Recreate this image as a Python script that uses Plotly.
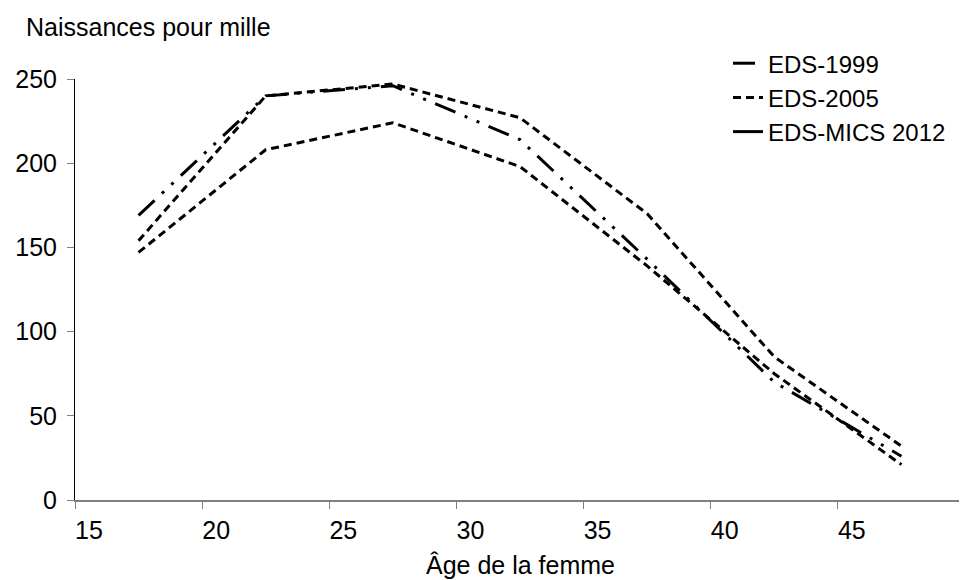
import plotly.graph_objects as go

age_groups = [17.5, 22.5, 27.5, 32.5, 37.5, 42.5, 47.5]
eds_1999 = [169, 240, 246, 214, 143, 70, 26]
eds_2005 = [154, 240, 247, 227, 170, 85, 32]
eds_mics_2012 = [147, 208, 224, 198, 139, 75, 21]

x_tickvals = [15, 20, 25, 30, 35, 40, 45, 50]
x_ticktext = ["15", "20", "25", "30", "35", "40", "45", ""]
y_tickvals = [0, 50, 100, 150, 200, 250]

FONT = "Liberation Sans, Arial, sans-serif"
FS = 24

fig = go.Figure()
fig.add_trace(go.Scatter(
    x=age_groups, y=eds_1999, mode="lines", name="EDS-1999",
    line=dict(color="black", width=3, dash="22px,10px,3px,10px,3px,10px"),
))
fig.add_trace(go.Scatter(
    x=age_groups, y=eds_2005, mode="lines", name="EDS-2005",
    line=dict(color="black", width=3, dash="8px,5px"),
))
fig.add_trace(go.Scatter(
    x=age_groups, y=eds_mics_2012, mode="lines", name="EDS-MICS 2012",
    line=dict(color="black", width=3, dash="8px,5px"), showlegend=False,
    legendgroup="2012",
))
fig.add_trace(go.Scatter(
    x=[None], y=[None], mode="lines", name="EDS-MICS 2012",
    line=dict(color="black", width=3), legendgroup="2012",
))

# the page body adds an 8px margin, so the figure is drawn 8px smaller
fig.update_layout(
    width=959, height=572,
    margin=dict(l=67, r=2, t=71, b=80, autoexpand=False),
    paper_bgcolor="white", plot_bgcolor="white",
    font=dict(family=FONT, size=FS, color="black"),
    showlegend=True,
    legend=dict(x=0.7337, y=1.09, xanchor="left", yanchor="top",
                bgcolor="rgba(0,0,0,0)", font=dict(size=FS),
                tracegroupgap=0),
    xaxis=dict(
        range=[15, 50], tickvals=x_tickvals, ticktext=x_ticktext,
        showgrid=False, zeroline=False, automargin=False,
        showline=True, linecolor="#808080", linewidth=2,
        ticks="outside", ticklen=7, tickcolor="#808080", tickwidth=1,
        ticklabelshift=14, tickfont=dict(size=25),
    ),
    yaxis=dict(
        range=[0, 250], tickvals=y_tickvals,
        showgrid=False, zeroline=False, automargin=False,
        showline=True, linecolor="black", linewidth=1,
        ticks="outside", ticklen=7, tickcolor="#808080", tickwidth=1,
        ticklabelstandoff=5, tickfont=dict(size=25),
    ),
    annotations=[
        dict(
            text="Naissances pour mille", xref="paper", yref="paper",
            x=-51 / 890, y=1.0 + 52 / 421, xanchor="left", yanchor="middle",
            showarrow=False, font=dict(size=25),
        ),
        dict(
            text="Âge de la femme", xref="paper", yref="paper",
            x=0.5, y=-65 / 421, xanchor="center", yanchor="middle",
            showarrow=False, font=dict(size=25),
        ),
    ],
)

fig.write_html("out.html")
